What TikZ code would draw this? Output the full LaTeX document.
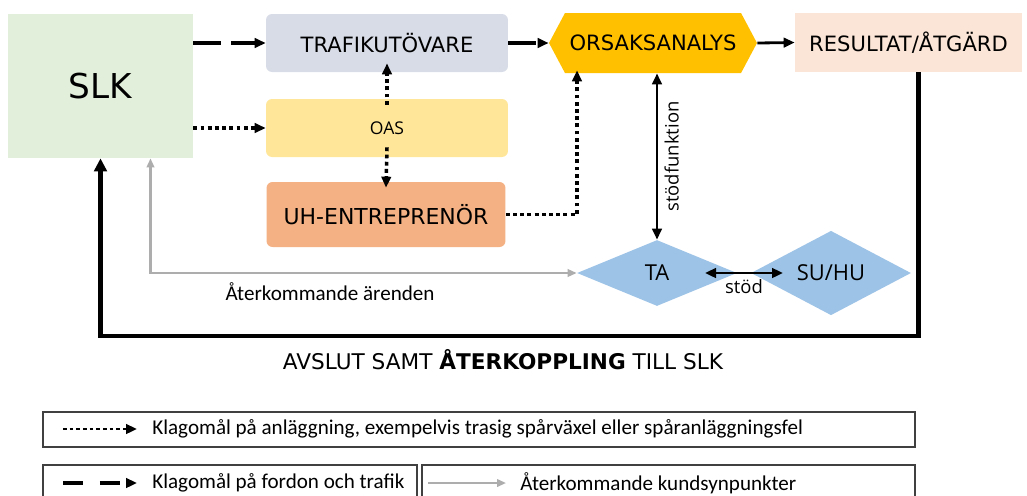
\documentclass[tikz,border=0pt]{standalone}
\usepackage{fontspec}
\setmainfont{DejaVu Sans}
\newfontfamily\calfont{Carlito}
\newfontfamily\opfont{Open Sans}
\usetikzlibrary{shapes.geometric,shapes.symbols,arrows.meta}
\definecolor{slkgreen}{HTML}{E2EFDA}
\definecolor{tubgrey}{HTML}{D8DCE7}
\definecolor{oasyellow}{HTML}{FFE699}
\definecolor{uhorange}{HTML}{F4B183}
\definecolor{orsakgold}{HTML}{FFC000}
\definecolor{respeach}{HTML}{FBE5D6}
\definecolor{tablue}{HTML}{9DC3E6}
\definecolor{retgrey}{HTML}{ADADAD}

\begin{document}
\begin{tikzpicture}[x=0.02cm, y=-0.02cm, >={Triangle[length=0.22cm,width=0.19cm]},
  box/.style={rectangle, rounded corners=0.12cm, minimum width=4.84cm, minimum height=1.16cm, align=center, font=\fontsize{12}{14}\selectfont},
  tabox/.style={diamond, fill=tablue, inner sep=0pt, minimum width=3.2cm, minimum height=1.32cm, font=\opfont\fontsize{12.5}{14}\selectfont},
  dashline/.style={line width=1.8pt, dash pattern=on 0.56cm off 0.2cm},
  dotline/.style={line width=2pt, dash pattern=on 2.2pt off 1.9pt},
  solidline/.style={line width=1.6pt},
  greyline/.style={line width=1.2pt, draw=retgrey, >={Triangle[length=0.18cm,width=0.15cm]}},
  fbline/.style={line width=2.5pt, >={Triangle[length=0.26cm,width=0.25cm]}},
  legbox/.style={rectangle, draw=black!75, line width=0.8pt, minimum height=0.7cm},
  legtext/.style={anchor=west, inner sep=0pt, font=\calfont\fontsize{12}{14}\selectfont}]
  \useasboundingbox (0,0) rectangle (1027,495);

  \node[fill=slkgreen, minimum width=3.7cm, minimum height=2.88cm, font=\fontsize{19.5}{22}\selectfont] (slk) at (100.5,86) {SLK};
  \node[box, fill=tubgrey] (trafik) at (387,43) {TRAFIKUTÖVARE};
  \node[box, fill=oasyellow, font=\opfont\fontsize{10}{12}\selectfont] (oas) at (387,128) {OAS};
  \node[box, fill=uhorange, minimum width=4.78cm, minimum height=1.3cm, font=\fontsize{12.5}{14}\selectfont] (uh) at (386,214.5) {UH-ENTREPRENÖR};
  \node[signal, signal to=east and west, signal pointer angle=124, fill=orsakgold, minimum width=4.16cm, minimum height=1.2cm, inner xsep=0pt, font=\fontsize{12}{14}\selectfont] (orsak) at (653,43) {ORSAKSANALYS};
  \node[fill=respeach, minimum width=4.54cm, minimum height=1.18cm, font=\fontsize{12}{14}\selectfont] (result) at (908.5,42.5) {RESULTAT/ÅTGÄRD};
  \node[tabox] (ta) at (657,273) {TA};
  \node[tabox] (suhu) at (831,273) {SU/HU};

  \draw[dashline,->] (slk.east |- trafik.west) -- (trafik.west);
  \draw[dotline,->] (slk.east |- oas.west) -- (oas.west);
  \draw[dashline,->] (trafik.east) -- (orsak.west);
  \draw[solidline,->] (orsak.east) -- (result.west);
  \draw[dotline,->] ([yshift=-0.12cm]oas.north) -- ([yshift=0.18cm]trafik.south);
  \draw[dotline,->] ([yshift=0.2cm]oas.south) -- ([yshift=-0.12cm]uh.north);
  \draw[dotline,->] (uh.east) -| ([shift={(-1.52cm,0.06cm)}]orsak.south);
  \draw[solidline,<->] (ta.north |- orsak.south) -- (ta.north) node[midway, rotate=90, anchor=north, inner sep=0.12cm, font=\opfont\fontsize{10.5}{12}\selectfont] (stodf) {stödfunktion};
  \draw[solidline,<->] ([xshift=0.96cm]ta.center) -- ([xshift=-0.96cm]suhu.center) node[midway, below, inner sep=0.1cm, font=\opfont\fontsize{10.5}{12}\selectfont] (stod) {stöd};
  \draw[greyline,<->] (ta.west) -| ([xshift=1cm]slk.south);
  \node[font=\calfont\fontsize{12}{14}\selectfont] (aterk) at (330,292) {Återkommande ärenden};
  \coordinate (fb) at (500,336);
  \draw[fbline,->] ([xshift=0.2cm]result.south) |- (fb) -| (slk.south);
  \node[font=\fontsize{12.3}{14}\selectfont] (avslut) at (503,360) {AVSLUT SAMT \textbf{ÅTERKOPPLING} TILL SLK};

  \node[legbox, minimum width=17.44cm] (leg1) at (479,429.5) {};
  \node[legbox, minimum width=7.48cm] (leg2) at (230,482.5) {};
  \node[legbox, minimum width=9.86cm] (leg3) at (668.5,482.5) {};
  \coordinate (d1) at (63,429); \coordinate (d2) at (137,429);
  \coordinate (f1) at (63,483); \coordinate (f2) at (137,483);
  \coordinate (g1) at (428,483); \coordinate (g2) at (506,483);
  \draw[line width=1.6pt, dash pattern=on 2pt off 1.8pt, ->] (d1) -- (d2);
  \draw[line width=1.8pt, dash pattern=on 0.4cm off 0.34cm, ->] (f1) -- (f2);
  \draw[greyline, ->] (g1) -- (g2);
  \node[legtext] (t1) at (152,429) {Klagomål på anläggning, exempelvis trasig spårväxel eller spåranläggningsfel};
  \node[legtext] (t2) at (152,483) {Klagomål på fordon och trafik};
  \node[legtext] (t3) at (520,483) {Återkommande kundsynpunkter};
\end{tikzpicture}
\end{document}
